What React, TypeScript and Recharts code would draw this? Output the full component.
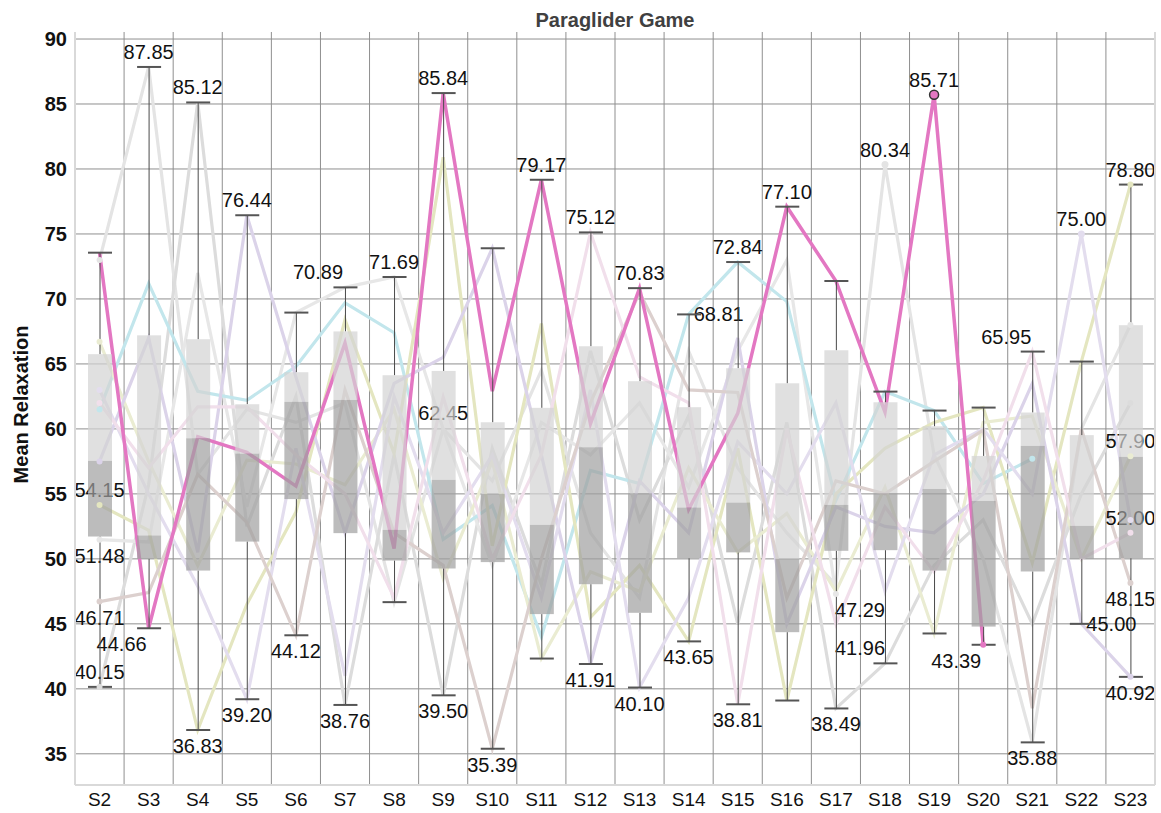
import React from 'react';
import { ComposedChart, Line, Bar, XAxis, YAxis, CartesianGrid, ReferenceDot, Label } from 'recharts';

const FONT = '"Liberation Sans", Arial, Helvetica, sans-serif';

const sessions = ['S2', 'S3', 'S4', 'S5', 'S6', 'S7', 'S8', 'S9', 'S10', 'S11', 'S12', 'S13', 'S14', 'S15', 'S16', 'S17', 'S18', 'S19', 'S20', 'S21', 'S22', 'S23'];

// box statistics per session
const boxMin = [40.15, 44.66, 36.83, 39.2, 44.12, 38.76, 46.67, 39.5, 35.39, 42.33, 41.91, 40.1, 43.65, 38.81, 39.1, 38.49, 41.96, 44.26, 43.39, 35.88, 45.0, 40.92];
const boxQ1 = [51.72, 50.0, 49.1, 51.33, 54.6, 51.98, 49.87, 49.26, 49.75, 45.75, 48.05, 45.85, 50.05, 50.5, 44.36, 50.62, 50.67, 49.1, 44.79, 49.03, 50.0, 50.05];
const boxMedian = [57.54, 51.8, 59.28, 58.1, 62.08, 62.23, 52.23, 56.08, 55.0, 52.62, 58.59, 55.05, 53.95, 54.33, 50.0, 54.15, 55.05, 55.38, 54.46, 58.69, 52.54, 57.85];
const boxQ3 = [65.75, 67.2, 66.9, 61.9, 64.36, 67.5, 64.13, 64.46, 60.51, 61.62, 66.36, 63.67, 61.67, 64.67, 63.51, 66.05, 62.05, 60.2, 57.92, 61.26, 59.52, 67.98];
const boxMax = [73.56, 87.85, 85.12, 76.44, 68.95, 70.89, 71.69, 85.84, 73.9, 79.17, 75.12, 70.83, 68.81, 72.84, 77.1, 71.38, 62.87, 61.41, 61.64, 65.95, 65.18, 78.8];

// participant lines
const highlighted = [73.56, 44.66, 59.4, 58.2, 55.6, 66.6, 50.8, 85.84, 62.9, 79.17, 60.4, 70.83, 53.8, 61.2, 77.1, 71.38, 61.3, 85.71, 43.39, null, null, null];
const cyanLine = [61.5, 71.2, 62.9, 62.2, 64.8, 69.7, 67.4, 51.5, 54.1, 44.0, 56.8, 55.8, 68.81, 72.84, 69.8, 54.5, 62.87, 61.41, 55.8, 57.7, null, null];
const oliveLine = [54.15, 52.2, 36.83, 46.5, 53.6, 68.4, 58.1, 80.9, 51.0, 68.1, 45.5, 49.5, 43.65, 58.5, 39.1, 55.0, 58.5, 60.5, 61.64, 49.7, 65.18, 78.8];
const yellowLine = [66.7, 57.5, 49.5, 57.6, 57.3, 55.7, 61.5, 48.5, 57.5, 42.33, 49.0, 47.5, 57.0, 50.5, 53.5, 47.5, 55.5, 44.26, 60.5, 61.0, 50.0, 57.9];
const greyLineA = [73.0, 87.85, 56.5, 61.5, 60.5, 62.0, 46.67, 60.0, 56.0, 64.5, 52.0, 47.0, 66.0, 57.0, 52.0, 48.0, 80.34, 58.0, 50.0, 35.88, 60.0, 68.0];
const greyLineB = [40.15, 55.7, 85.12, 52.5, 62.5, 38.76, 58.0, 39.5, 58.5, 48.0, 66.0, 53.0, 61.0, 45.0, 60.5, 38.49, 41.96, 49.5, 53.0, 45.0, 55.0, 62.0];
const greyLineC = [51.48, 51.3, 72.0, 54.0, 68.95, 70.89, 71.69, 60.0, 49.5, 60.5, 58.0, 62.0, 55.5, 66.0, 73.0, 47.29, null, null, null, null, null, null];
const lilacLineA = [57.5, 67.0, 50.5, 76.44, 64.0, 52.0, 63.5, 65.5, 73.9, 58.0, 41.91, 56.0, 52.0, 67.0, 45.0, 54.0, 52.5, 52.0, 55.0, 63.5, 45.0, 40.92];
const lilacLineB = [63.0, 55.0, 47.9, 39.2, 58.5, 41.0, 62.5, 52.0, 58.0, 47.0, 63.0, 40.1, 47.0, 59.0, 55.0, 62.0, 47.5, 58.0, 60.0, 55.0, 75.0, 53.0];
const brownLine = [46.71, 47.4, 56.5, 52.8, 44.12, 63.0, 52.0, 49.5, 35.39, 50.0, 62.0, 70.5, 63.0, 62.8, 47.0, 56.0, 55.0, 57.5, 59.9, 38.5, 60.0, 48.15];
const roseLine = [62.0, 57.0, 61.7, 61.7, 58.0, 55.0, 47.0, 62.45, 50.0, 58.0, 75.12, 64.0, 62.0, 38.81, 60.0, 45.0, 54.0, 49.0, 56.0, 65.95, 50.0, 52.0];

const yTicks = [35, 40, 45, 50, 55, 60, 65, 70, 75, 80, 85, 90];

type Series = { key: string; values: (number | null)[]; color: string; width: number; main?: boolean };

const faintSeries: Series[] = [
  { key: 'greyA', values: greyLineA, color: '#e4e4e4', width: 3.2 },
  { key: 'greyB', values: greyLineB, color: '#dcdcdc', width: 3.2 },
  { key: 'greyC', values: greyLineC, color: '#e7e7e7', width: 3.2 },
  { key: 'cyan', values: cyanLine, color: '#c2e6ec', width: 3.2 },
  { key: 'olive', values: oliveLine, color: '#e4e6c0', width: 3.2 },
  { key: 'yellow', values: yellowLine, color: '#eaecd2', width: 3.2 },
  { key: 'lilacA', values: lilacLineA, color: '#dbd3e9', width: 3.2 },
  { key: 'lilacB', values: lilacLineB, color: '#e3ddee', width: 3.2 },
  { key: 'brown', values: brownLine, color: '#dcd0ce', width: 3.2 },
  { key: 'rose', values: roseLine, color: '#f1dfeb', width: 3.2 },
];
const mainSeries: Series = { key: 'main', values: highlighted, color: '#e377c2', width: 3.5, main: true };
const allSeries = [...faintSeries, mainSeries];

// which series/session values get a text label, and where the text sits
const valueLabels: { key: string; s: string; at: 'above' | 'below' | 'right'; dx?: number }[] = [
  { key: 'olive', s: 'S2', at: 'above' },
  { key: 'greyC', s: 'S2', at: 'below' },
  { key: 'brown', s: 'S2', at: 'below' },
  { key: 'greyB', s: 'S2', at: 'above' },
  { key: 'greyA', s: 'S3', at: 'above' },
  { key: 'main', s: 'S3', at: 'below', dx: -27 },
  { key: 'greyB', s: 'S4', at: 'above' },
  { key: 'olive', s: 'S4', at: 'below' },
  { key: 'lilacA', s: 'S5', at: 'above' },
  { key: 'lilacB', s: 'S5', at: 'below' },
  { key: 'brown', s: 'S6', at: 'below' },
  { key: 'greyC', s: 'S7', at: 'above', dx: -27 },
  { key: 'greyB', s: 'S7', at: 'below' },
  { key: 'greyC', s: 'S8', at: 'above' },
  { key: 'main', s: 'S9', at: 'above' },
  { key: 'rose', s: 'S9', at: 'below' },
  { key: 'greyB', s: 'S9', at: 'below' },
  { key: 'brown', s: 'S10', at: 'below' },
  { key: 'main', s: 'S11', at: 'above' },
  { key: 'rose', s: 'S12', at: 'above' },
  { key: 'lilacA', s: 'S12', at: 'below' },
  { key: 'main', s: 'S13', at: 'above' },
  { key: 'lilacB', s: 'S13', at: 'below' },
  { key: 'cyan', s: 'S14', at: 'right' },
  { key: 'olive', s: 'S14', at: 'below' },
  { key: 'cyan', s: 'S15', at: 'above' },
  { key: 'rose', s: 'S15', at: 'below' },
  { key: 'main', s: 'S16', at: 'above' },
  { key: 'greyC', s: 'S17', at: 'below', dx: 24 },
  { key: 'greyB', s: 'S17', at: 'below' },
  { key: 'greyA', s: 'S18', at: 'above' },
  { key: 'greyB', s: 'S18', at: 'above', dx: -25 },
  { key: 'main', s: 'S19', at: 'above' },
  { key: 'main', s: 'S20', at: 'below', dx: -27 },
  { key: 'rose', s: 'S21', at: 'above', dx: -26 },
  { key: 'greyA', s: 'S21', at: 'below' },
  { key: 'lilacB', s: 'S22', at: 'above' },
  { key: 'lilacA', s: 'S22', at: 'right' },
  { key: 'olive', s: 'S23', at: 'above' },
  { key: 'yellow', s: 'S23', at: 'above' },
  { key: 'rose', s: 'S23', at: 'above' },
  { key: 'brown', s: 'S23', at: 'below' },
  { key: 'lilacA', s: 'S23', at: 'below' },
];

const rows = sessions.map((s, i) => {
  const row: Record<string, any> = { s, min: boxMin[i], q1: boxQ1[i], med: boxMedian[i], q3: boxQ3[i], max: boxMax[i] };
  allSeries.forEach((ser) => { row[ser.key] = ser.values[i]; });
  return row;
});

// whiskers + two-tone box, mapped from the bar's [min, max] pixel span
function BoxShape(props: any) {
  const { x, y, width, height, payload } = props;
  if (!payload || y == null) return <g />;
  const top = Math.min(y, y + height);
  const h = Math.abs(height);
  const { min, max, q1, med, q3 } = payload;
  const py = (v: number) => top + ((max - v) / (max - min)) * h;
  const cx = x + width / 2;
  const left = cx - width / 2;
  return (
    <g>
      <line x1={cx} x2={cx} y1={py(max)} y2={py(q3)} stroke="#4a4a4a" strokeWidth={1} />
      <line x1={cx} x2={cx} y1={py(q1)} y2={py(min)} stroke="#4a4a4a" strokeWidth={1} />
      <rect x={left} y={py(q3)} width={width} height={py(med) - py(q3)} fill="#d3d3d3" fillOpacity={0.7} />
      <rect x={left} y={py(med)} width={width} height={py(q1) - py(med)} fill="#a0a0a0" fillOpacity={0.7} />
      <line x1={left} x2={left + width} y1={py(max)} y2={py(max)} stroke="#555" strokeWidth={2} />
      <line x1={left} x2={left + width} y1={py(min)} y2={py(min)} stroke="#555" strokeWidth={2} />
    </g>
  );
}

const makeDot = (ser: Series) => {
  const first = ser.main ? -1 : ser.values.findIndex((v) => v != null);
  let last = -1;
  ser.values.forEach((v, i) => { if (v != null) last = i; });
  return (p: any) => {
    const { cx, cy, index, value, payload } = p;
    const k = `${ser.key}-dot-${index}`;
    if (cx == null || cy == null || value == null) return <g key={k} />;
    const outlier = value > payload.max + 1e-6 || value < payload.min - 1e-6;
    if (outlier) {
      return <circle key={k} cx={cx} cy={cy} r={ser.main ? 4.5 : 3.5} fill={ser.color} stroke={ser.main ? '#333' : 'none'} strokeWidth={1.5} />;
    }
    if (index === first || index === last) {
      return <circle key={k} cx={cx} cy={cy} r={3} fill={ser.color} />;
    }
    return <g key={k} />;
  };
};

const textShape = (text: string, at: string, dx: number) => (p: any) => {
  const { cx, cy } = p;
  let tx = cx + dx;
  let ty = cy;
  let anchor: 'middle' | 'start' = 'middle';
  if (at === 'above') ty = cy - 15;
  else if (at === 'below') ty = cy + 16;
  else { tx = cx + 5; anchor = 'start'; }
  return (
    <text x={tx} y={ty} textAnchor={anchor} dominantBaseline="central" fontSize={20} fontFamily={FONT} fill="#111">
      {text}
    </text>
  );
};

export default function App() {
  return (
    <div style={{ position: 'absolute', left: 0, top: 0, width: 1161, height: 813, background: '#fff', fontFamily: FONT }}>
      <div style={{ position: 'absolute', left: 75, top: 10, width: 1080, textAlign: 'center', fontSize: 20, lineHeight: '20px', fontWeight: 700, color: '#404040' }}>
        Paraglider Game
      </div>
      <ComposedChart width={1161} height={813} data={rows} margin={{ top: 32, right: 0, bottom: 0, left: 0 }}>
        <CartesianGrid
          stroke="#8f8f8f"
          strokeWidth={1}
          horizontalValues={yTicks}
          verticalCoordinatesGenerator={({ offset }: any) =>
            sessions.slice(1).map((_, i) => offset.left + ((i + 1) * offset.width) / sessions.length)
          }
        />
        <XAxis
          dataKey="s"
          type="category"
          interval={0}
          height={28}
          tickLine={false}
          axisLine={{ stroke: '#d9d9d9', strokeWidth: 2 }}
          tick={{ fontSize: 19, fill: '#111', fontFamily: FONT }}
        />
        <XAxis xAxisId="top" dataKey="s" orientation="top" height={0} tick={false} tickLine={false} axisLine={{ stroke: '#d9d9d9', strokeWidth: 2 }} />
        <YAxis
          type="number"
          domain={[32.6, 90.54]}
          ticks={yTicks}
          allowDataOverflow
          width={75}
          tickLine={false}
          axisLine={{ stroke: '#d9d9d9', strokeWidth: 2 }}
          tick={{ fontSize: 20, fontWeight: 700, fill: '#111', fontFamily: FONT }}
        >
          <Label
            content={(lp: any) => {
              const vb = lp.viewBox || { x: 0, y: 32, height: 753 };
              const lx = 21;
              const ly = vb.y + vb.height / 2 - 4;
              return (
                <text x={lx} y={ly} transform={`rotate(-90 ${lx} ${ly})`} textAnchor="middle" dominantBaseline="central" fontSize={20} fontWeight={700} fontFamily={FONT} fill="#111">
                  Mean Relaxation
                </text>
              );
            }}
          />
        </YAxis>
        <YAxis yAxisId="right" orientation="right" width={6} domain={[32.6, 90.54]} tick={false} tickLine={false} axisLine={{ stroke: '#d9d9d9', strokeWidth: 2 }} />

        {faintSeries.map((ser) => (
          <Line
            key={ser.key}
            dataKey={ser.key}
            type="linear"
            stroke={ser.color}
            strokeWidth={ser.width}
            dot={makeDot(ser)}
            activeDot={false}
            isAnimationActive={false}
            connectNulls={false}
            zIndex={400}
          />
        ))}
        <Line
          dataKey={mainSeries.key}
          type="linear"
          stroke={mainSeries.color}
          strokeWidth={mainSeries.width}
          dot={makeDot(mainSeries)}
          activeDot={false}
          isAnimationActive={false}
          zIndex={405}
        />

        {valueLabels.map((lb, i) => {
          const idx = sessions.indexOf(lb.s);
          const ser = allSeries.find((x) => x.key === lb.key)!;
          const v = ser.values[idx] as number;
          return (
            <ReferenceDot
              key={`lab-${i}`}
              x={lb.s}
              y={v}
              r={0}
              ifOverflow="visible"
              shape={textShape(v.toFixed(2), lb.at, lb.dx ?? 0)}
              zIndex={410}
            />
          );
        })}

        <Bar
          dataKey={(r: any) => [r.min, r.max]}
          barSize={24}
          shape={BoxShape}
          isAnimationActive={false}
          zIndex={450}
        />
      </ComposedChart>
    </div>
  );
}
